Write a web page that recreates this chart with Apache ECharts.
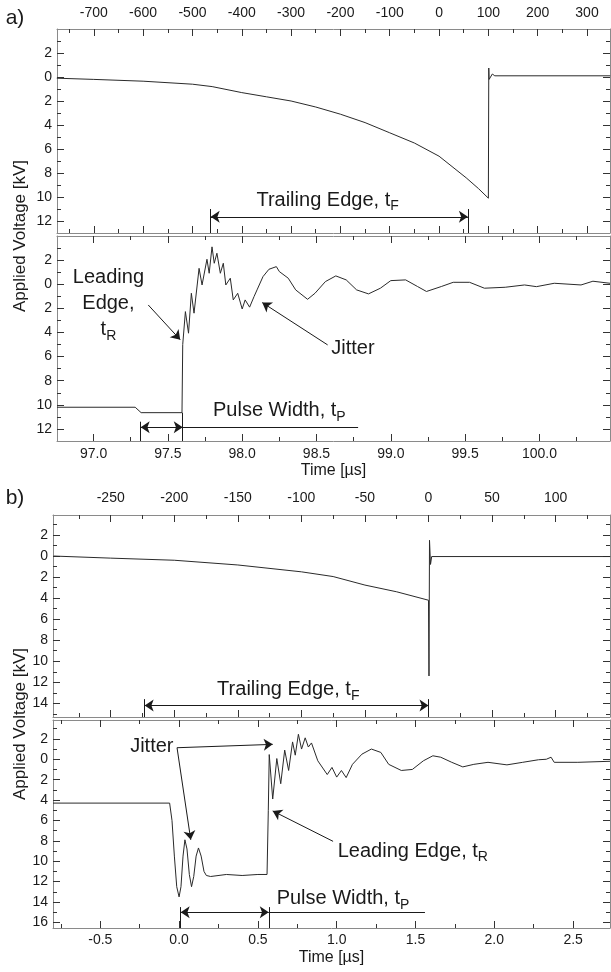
<!DOCTYPE html>
<html>
<head>
<meta charset="utf-8">
<title>Pulse shapes</title>
<script src="https://cdn.jsdelivr.net/npm/echarts@6/dist/echarts.min.js"></script>
<style>
html, body { margin: 0; padding: 0; background: #fff; }
#main { width: 611px; height: 972px; }
</style>
</head>
<body>
<div id="main"></div>
<script>
// ---------------- data ----------------
// a) upper panel: trailing edge, top time scale
const aTopTime = [-775, -700, -600, -500, -460, -400, -350, -300, -250, -200, -150, -100, -50, 0, 55, 80, 100, 100.8, 101.5, 104, 108, 113, 347];
const aTopVolt = [0.1, 0.2, 0.35, 0.6, 0.8, 1.3, 1.65, 2.0, 2.5, 3.1, 3.8, 4.65, 5.5, 6.6, 8.4, 9.3, 10.1, -0.75, 0.2, 0.2, -0.25, -0.1, -0.1];

// a) lower panel: leading edge, time in µs
const aBotTime = [96.754, 97.28, 97.32, 97.595, 97.600, 97.618, 97.639, 97.658, 97.676, 97.71, 97.73, 97.763, 97.778, 97.797, 97.812, 97.83,
  97.853, 97.873, 97.89, 97.92, 97.94, 97.97, 98.0, 98.02, 98.05, 98.08, 98.10, 98.14, 98.18, 98.23, 98.25, 98.31, 98.36, 98.44,
  98.49, 98.56, 98.63, 98.70, 98.77, 98.85, 98.93, 99.0, 99.1, 99.18, 99.24, 99.34, 99.42, 99.53, 99.63, 99.77, 99.9, 99.98,
  100.1, 100.28, 100.36, 100.475];
const aBotVolt = [10.2, 10.2, 10.65, 10.65, 5.0, 2.27, 4.06, 0.75, 2.4, -1.32, 0.06, -2.07, -0.91, -3.1, -1.74, -2.57,
  -0.91, -1.74, 0.06, -0.5, 1.3, 0.75, 2.05, 1.3, 1.9, 1.02, 0.47, -0.63, -1.24, -1.46, -1.05, -0.5, 0.47, 1.25,
  0.75, -0.22, -0.69, -0.36, 0.47, 0.8, 0.33, -0.3, -0.36, 0.19, 0.6, 0.19, -0.16, -0.16, 0.33, 0.25, 0.06, 0.2,
  -0.08, 0.06, -0.25, -0.08];

// b) upper panel
const bTopTime = [-295, -250, -200, -150, -100, -75, -50, -25, 0, 0.4, 0.8, 1.6, 2.5, 143];
const bTopVolt = [0.0, 0.2, 0.4, 0.85, 1.5, 1.95, 2.76, 3.4, 4.2, 11.4, -1.5, 0.8, 0.05, 0.05];

// b) lower panel
const bBotTime = [-0.80, -0.06, -0.045, -0.03, -0.015, 0.0, 0.012, 0.025, 0.037, 0.05, 0.065, 0.079, 0.093, 0.108, 0.123, 0.14, 0.158, 0.173,
  0.2, 0.3, 0.4, 0.5, 0.558, 0.566, 0.572, 0.594, 0.62, 0.645, 0.67, 0.695, 0.72, 0.737, 0.757, 0.777, 0.8, 0.82, 0.84, 0.88,
  0.94, 0.97, 1.0, 1.03, 1.06, 1.1, 1.16, 1.22, 1.28, 1.33, 1.41, 1.48, 1.55, 1.61, 1.66, 1.73, 1.8, 1.87, 1.96, 2.08,
  2.18, 2.28, 2.33, 2.36, 2.38, 2.53, 2.734];
const bBotVolt = [4.3, 4.3, 6.0, 9.5, 12.5, 13.5, 12.5, 9.5, 7.9, 8.8, 11.3, 12.5, 11.5, 9.5, 8.7, 9.5, 11.0, 11.4,
  11.5, 11.3, 11.4, 11.3, 11.3, 5.0, -0.46, 3.9, -0.07, 2.4, -0.9, 1.1, -1.7, -0.4, -2.45, -1.0, -2.1, -1.2, -1.6, 0.15,
  1.5, 0.8, 1.75, 1.1, 1.8, 0.5, -0.5, -1.0, -0.67, 0.5, 1.1, 1.0, 0.15, -0.34, -0.2, 0.3, 0.75, 0.5, 0.3, 0.55,
  0.3, 0.05, 0.0, -0.2, 0.3, 0.3, 0.2];

// axis ranges
const aTopRange = [-774.6, 346.6];
const aBotRange = [96.754, 100.475];
const bTopRange = [-295.4, 142.8];
const bBotRange = [-0.80, 2.734];
const aVoltRange = [-4, 13];
const bTopVoltRange = [-3.9, 15.3];
const bBotVoltRange = [-3.85, 16.55];

// tick values
const aTopMajor = [-700, -600, -500, -400, -300, -200, -100, 0, 100, 200, 300];
const aTopMinor = [-750, -650, -550, -450, -350, -250, -150, -50, 50, 150, 250];
const aBotMajor = [97.0, 97.5, 98.0, 98.5, 99.0, 99.5, 100.0];
const aBotMinor = [97.25, 97.75, 98.25, 98.75, 99.25, 99.75, 100.25];
const bTopMajor = [-250, -200, -150, -100, -50, 0, 50, 100];
const bTopMinor = [-275, -225, -175, -125, -75, -25, 25, 75, 125];
const bBotMajor = [-0.5, 0.0, 0.5, 1.0, 1.5, 2.0, 2.5];
const bBotMinor = [-0.75, -0.25, 0.25, 0.75, 1.25, 1.75, 2.25];
const aVoltMajor = [-2, 0, 2, 4, 6, 8, 10, 12];
const aVoltMinor = [-3, -1, 1, 3, 5, 7, 9, 11];
const bTopVoltMajor = [-2, 0, 2, 4, 6, 8, 10, 12, 14];
const bTopVoltMinor = [-3, -1, 1, 3, 5, 7, 9, 11, 13, 15];
const bBotVoltMajor = [-2, 0, 2, 4, 6, 8, 10, 12, 14, 16];
const bBotVoltMinor = [-3, -1, 1, 3, 5, 7, 9, 11, 13, 15];

// annotation anchors (data coordinates)
const aTrail = [-463, 58.5];       // trailing edge arrow ends
const aPulse = [97.317, 97.6, 98.78];
const bTrail = [-223.3, 0];
const bPulse = [0.01, 0.569, 1.56];

// ---------------- styling ----------------
const font = '"Liberation Sans", Arial, Helvetica, sans-serif';
const ink = '#1a1a1a';
const frame = '#8a8a8a';
const tickColor = '#333';

const zip = (xs, ys) => xs.map((x, i) => [x, ys[i]]);
const absFmt = v => String(Math.abs(Math.round(v)));

const xAxes = [];
const yAxes = [];

// frame axis with major ticks (+labels), plus an overlaid axis carrying the minor ticks
function addAxes(list, grid, pos, range, major, minor, opt) {
	opt = opt || {};
	const base = {
		type: 'value', gridIndex: grid, position: pos,
		min: range[0], max: range[1], inverse: !!opt.inverse,
		splitLine: {show: false}
	};
	const ax = Object.assign({}, base, {
		axisLine: {show: true, onZero: false, lineStyle: {color: frame, width: 1}},
		axisTick: {show: true, inside: true, length: 7, customValues: major, lineStyle: {color: tickColor}},
		axisLabel: {
			show: !!opt.labels, customValues: major, margin: opt.margin || 6,
			color: ink, fontSize: 14, fontFamily: font
		}
	});
	if (opt.fmt) ax.axisLabel.formatter = opt.fmt;
	if (opt.name) {
		ax.name = opt.name;
		ax.nameLocation = 'middle';
		ax.nameGap = opt.nameGap;
		ax.nameTextStyle = {color: ink, fontSize: 16, fontFamily: font};
	}
	list.push(ax);
	const idx = list.length - 1;
	list.push(Object.assign({}, base, {
		axisLine: {show: false, onZero: false},
		axisTick: {show: true, inside: true, length: 4, customValues: minor, lineStyle: {color: tickColor}},
		axisLabel: {show: false}
	}));
	return idx;
}

const int = v => String(v);
const dec1 = v => v.toFixed(1);

// a) top
const ax0 = addAxes(xAxes, 0, 'top', aTopRange, aTopMajor, aTopMinor, {labels: true, fmt: int, margin: 9});
addAxes(xAxes, 0, 'bottom', aTopRange, aTopMajor, aTopMinor);
const ay0 = addAxes(yAxes, 0, 'left', aVoltRange, aVoltMajor, aVoltMinor, {labels: true, fmt: absFmt, inverse: true, margin: 5});
addAxes(yAxes, 0, 'right', aVoltRange, aVoltMajor, aVoltMinor, {inverse: true});
// a) bottom
const ax1 = addAxes(xAxes, 1, 'bottom', aBotRange, aBotMajor, aBotMinor, {labels: true, fmt: dec1, margin: 6, name: 'Time [\u00b5s]', nameGap: 22});
addAxes(xAxes, 1, 'top', aBotRange, aBotMajor, aBotMinor);
const ay1 = addAxes(yAxes, 1, 'left', aVoltRange, aVoltMajor, aVoltMinor, {labels: true, fmt: absFmt, inverse: true, margin: 5});
addAxes(yAxes, 1, 'right', aVoltRange, aVoltMajor, aVoltMinor, {inverse: true});
// b) top
const ax2 = addAxes(xAxes, 2, 'top', bTopRange, bTopMajor, bTopMinor, {labels: true, fmt: int, margin: 10});
addAxes(xAxes, 2, 'bottom', bTopRange, bTopMajor, bTopMinor);
const ay2 = addAxes(yAxes, 2, 'left', bTopVoltRange, bTopVoltMajor, bTopVoltMinor, {labels: true, fmt: absFmt, inverse: true, margin: 5});
addAxes(yAxes, 2, 'right', bTopVoltRange, bTopVoltMajor, bTopVoltMinor, {inverse: true});
// b) bottom
const ax3 = addAxes(xAxes, 3, 'bottom', bBotRange, bBotMajor, bBotMinor, {labels: true, fmt: dec1, margin: 5, name: 'Time [\u00b5s]', nameGap: 22});
addAxes(xAxes, 3, 'top', bBotRange, bBotMajor, bBotMinor);
const ay3 = addAxes(yAxes, 3, 'left', bBotVoltRange, bBotVoltMajor, bBotVoltMinor, {labels: true, fmt: absFmt, inverse: true, margin: 5});
addAxes(yAxes, 3, 'right', bBotVoltRange, bBotVoltMajor, bBotVoltMinor, {inverse: true});

const rich = {
	a: {fontSize: 20, fontFamily: font, color: ink, lineHeight: 26},
	s: {fontSize: 14, fontFamily: font, color: ink, lineHeight: 14, padding: [12, 0, 0, 0]}
};

// arrows + helper lines
const marks = (lines) => ({
	silent: true, animation: false, symbol: ['none', 'none'], symbolSize: 9,
	label: {show: false}, emphasis: {disabled: true},
	lineStyle: {color: ink, width: 1, type: 'solid'},
	data: lines
});
// texts
const texts = (items) => ({
	silent: true, animation: false, symbol: 'circle', symbolSize: 0,
	itemStyle: {color: 'transparent'},
	label: {show: true, position: 'inside', rich: rich},
	data: items.map(t => ({coord: t[0], label: {formatter: t[1]}}))
});
const arrow = (p, q) => [{coord: p}, {coord: q, symbol: 'arrow'}];
const dblArrow = (p, q) => [{coord: p, symbol: 'arrow'}, {coord: q, symbol: 'arrow'}];
const seg = (p, q) => [{coord: p}, {coord: q}];

const lineStyle = {color: '#2a2a2a', width: 1};

const option = {
	animation: false,
	backgroundColor: '#fff',
	grid: [
		{left: 57, right: 1, top: 29, height: 204},
		{left: 57, right: 1, top: 236, height: 205},
		{left: 53, right: 1, top: 515, height: 202},
		{left: 53, right: 1, top: 720, height: 208}
	],
	xAxis: xAxes,
	yAxis: yAxes,
	graphic: [
		{type: 'text', x: 15, y: 18, style: {text: 'a)', fill: ink, fontSize: 21, fontFamily: font, align: 'center', verticalAlign: 'middle'}},
		{type: 'text', x: 15, y: 498, style: {text: 'b)', fill: ink, fontSize: 21, fontFamily: font, align: 'center', verticalAlign: 'middle'}},
		{type: 'text', x: 20, y: 236, rotation: Math.PI / 2, style: {text: 'Applied Voltage [kV]', fill: ink, fontSize: 17, fontFamily: font, align: 'center', verticalAlign: 'middle'}},
		{type: 'text', x: 20, y: 724, rotation: Math.PI / 2, style: {text: 'Applied Voltage [kV]', fill: ink, fontSize: 17, fontFamily: font, align: 'center', verticalAlign: 'middle'}}
	],
	series: [
		{
			type: 'line', xAxisIndex: ax0, yAxisIndex: ay0, showSymbol: false, symbol: 'none',
			lineStyle: lineStyle, data: zip(aTopTime, aTopVolt),
			markLine: marks([
				dblArrow([aTrail[0], 11.65], [aTrail[1], 11.65]),
				seg([aTrail[0], 11.0], [aTrail[0], 13]),
				seg([aTrail[1], 11.0], [aTrail[1], 13])
			]),
			markPoint: texts([[[-226, 10.3], '{a|Trailing Edge, t}{s|F}']])
		},
		{
			type: 'line', xAxisIndex: ax1, yAxisIndex: ay1, showSymbol: false, symbol: 'none',
			lineStyle: lineStyle, data: zip(aBotTime, aBotVolt),
			markLine: marks([
				dblArrow([aPulse[0], 11.85], [aPulse[1], 11.85]),
				seg([aPulse[1], 11.85], [aPulse[2], 11.85]),
				seg([aPulse[0], 11.4], [aPulse[0], 13]),
				seg([aPulse[1], 10.65], [aPulse[1], 13]),
				arrow([97.368, 1.72], [97.583, 4.6]),
				arrow([98.575, 5.03], [98.135, 1.52])
			]),
			markPoint: texts([
				[[98.25, 10.5], '{a|Pulse Width, t}{s|P}'],
				[[97.1, 1.63], '{a|Leading}\n{a|Edge,}\n{a|t}{s|R}'],
				[[98.745, 5.36], '{a|Jitter}']
			])
		},
		{
			type: 'line', xAxisIndex: ax2, yAxisIndex: ay2, showSymbol: false, symbol: 'none',
			lineStyle: lineStyle, data: zip(bTopTime, bTopVolt),
			markLine: marks([
				dblArrow([bTrail[0], 14.2], [bTrail[1], 14.2]),
				seg([bTrail[0], 13.6], [bTrail[0], 15.3]),
				seg([bTrail[1], 13.6], [bTrail[1], 15.3])
			]),
			markPoint: texts([[[-110.3, 12.7], '{a|Trailing Edge, t}{s|F}']])
		},
		{
			type: 'line', xAxisIndex: ax3, yAxisIndex: ay3, showSymbol: false, symbol: 'none',
			lineStyle: lineStyle, data: zip(bBotTime, bBotVolt),
			markLine: marks([
				dblArrow([bPulse[0], 15.0], [bPulse[1], 15.0]),
				seg([bPulse[1], 15.0], [bPulse[2], 15.0]),
				seg([bPulse[0], 14.5], [bPulse[0], 16.55]),
				seg([bPulse[1], 14.5], [bPulse[1], 16.55]),
				arrow([-0.013, -1.13], [0.594, -1.46]),
				arrow([-0.013, -1.13], [0.074, 7.9]),
				arrow([0.977, 8.05], [0.594, 5.07])
			]),
			markPoint: texts([
				[[1.04, 13.7], '{a|Pulse Width, t}{s|P}'],
				[[-0.173, -1.22], '{a|Jitter}'],
				[[1.483, 9.04], '{a|Leading Edge, t}{s|R}']
			])
		}
	]
};

const chart = echarts.init(document.getElementById('main'), null, {renderer: 'canvas'});
chart.setOption(option);
</script>
</body>
</html>
